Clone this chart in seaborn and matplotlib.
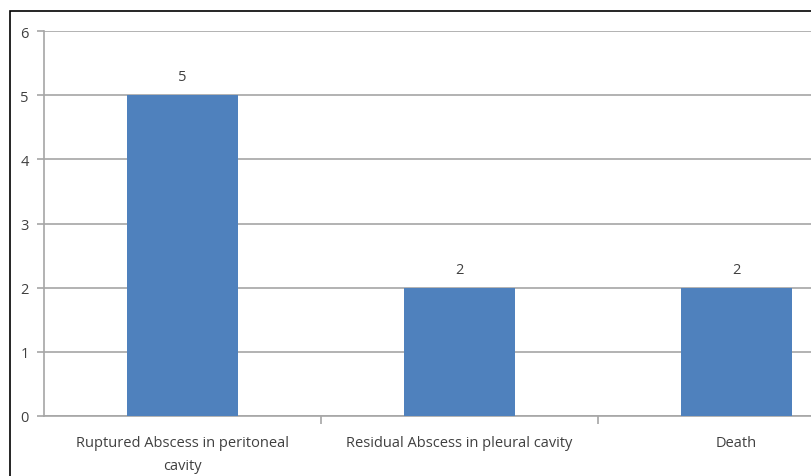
import matplotlib
matplotlib.use("Agg")
import matplotlib.pyplot as plt
from matplotlib.patches import Rectangle
import seaborn as sns
import pandas as pd

categories = ["Ruptured Abscess in peritoneal\ncavity",
              "Residual Abscess in pleural cavity",
              "Death"]
counts = [5, 2, 2]
y_ticks = [0, 1, 2, 3, 4, 5, 6]

df = pd.DataFrame({"category": categories, "count": counts})

sns.set_theme(style="white")
plt.rcParams["font.family"] = ["Open Sans", "DejaVu Sans"]

fig = plt.figure(figsize=(8.11, 4.77), dpi=100)
W, H = 811, 477
# plot area runs past the right edge of the canvas
ax = fig.add_axes([44 / W, 60 / H, 831 / W, 385 / H])

sns.barplot(data=df, x="category", y="count", color="#4F81BD",
            width=0.4, saturation=1, linewidth=0, ax=ax, zorder=3)

ax.set_xlim(-0.5, 2.5)
ax.set_ylim(0, 6)
ax.set_yticks(y_ticks)
ax.set_xlabel("")
ax.set_ylabel("")

ax.grid(axis="y", color="#A6A6A6", linewidth=1.2, zorder=0)
for side in ["top", "right"]:
    ax.spines[side].set_visible(False)
for side in ["left", "bottom"]:
    ax.spines[side].set_color("#A6A6A6")
    ax.spines[side].set_linewidth(1.2)

ax.tick_params(axis="y", length=5, width=1.2, color="#A6A6A6",
               labelsize=10.5, labelcolor="#404040", pad=6, left=True)
ax.tick_params(axis="x", which="major", length=0, labelsize=10.5,
               labelcolor="#404040", pad=14)
for lbl in ax.get_xticklabels():
    lbl.set_linespacing(1.7)
ax.set_xticks([0.5, 1.5], minor=True)
ax.tick_params(axis="x", which="minor", length=6, width=1.2,
               color="#A6A6A6", bottom=True)

for cont in ax.containers:
    ax.bar_label(cont, labels=[str(v) for v in counts], padding=8,
                 fontsize=10.5, color="#404040")

# outer chart frame
fig.patches.append(Rectangle((9.5 / W, -0.1), 2, (477 - 11.5) / H + 0.1,
                             transform=fig.transFigure, fill=False,
                             edgecolor="black", linewidth=1.2))

fig.savefig("out.png", dpi=100)
